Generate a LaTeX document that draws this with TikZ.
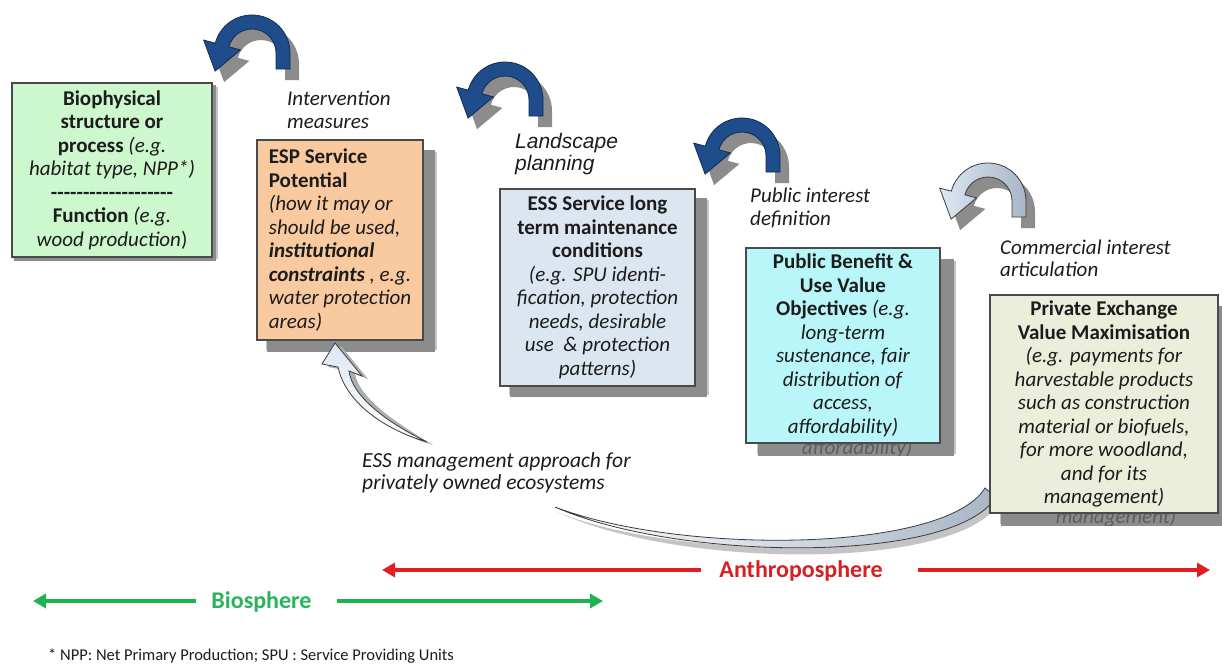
\documentclass[tikz,border=0pt]{standalone}
\usepackage{fontspec}
\setmainfont{Carlito}
\newfontfamily\arialfont{Liberation Sans}
\usetikzlibrary{arrows.meta}
\pgfdeclarelayer{paperlayer}
\pgfdeclarelayer{shadowlayer}
\pgfdeclarelayer{ghostlayer}
\pgfsetlayers{paperlayer,shadowlayer,ghostlayer,main}

\definecolor{textdark}{HTML}{1C1C1C}
\definecolor{boxborder}{HTML}{4A4A4A}
\definecolor{greenfill}{HTML}{CDF7CD}
\definecolor{orangefill}{HTML}{F9C9A0}
\definecolor{bluefill}{HTML}{DCE6F1}
\definecolor{cyanfill}{HTML}{B8F6FA}
\definecolor{beigefill}{HTML}{ECEEDC}
\definecolor{shadowgray}{HTML}{8C8C8C}
\definecolor{shadowsoft}{HTML}{C4C4C4}
\definecolor{ghostgray}{HTML}{5E5E5E}
\definecolor{ublue}{HTML}{1F4D8C}
\definecolor{ubluedark}{HTML}{112C52}
\definecolor{ulightA}{HTML}{DCE7F3}
\definecolor{ulightB}{HTML}{A9B6C7}
\definecolor{uoutline}{HTML}{3C3C3C}
\definecolor{redline}{HTML}{E01E24}
\definecolor{redtext}{HTML}{D82024}
\definecolor{greenline}{HTML}{1FB350}
\definecolor{greentext}{HTML}{2AB45A}

\tikzset{
  uturn/.pic={
    \begin{scope}[shift={(9,-11)}]
      \fill[shadowgray] (38,-16) -- (38,0) arc[start angle=0,end angle=165,radius=38]
        -- (-48.3,12.9) -- (-36.9,-18.1) -- (-11.6,3.1) -- (-23.18,6.21)
        arc[start angle=165,end angle=0,radius=24] -- (24,-16) -- cycle;
    \end{scope}
    \path[pic actions] (38,-16) -- (38,0) arc[start angle=0,end angle=165,radius=38]
        -- (-48.3,12.9) -- (-36.9,-18.1) -- (-11.6,3.1) -- (-23.18,6.21)
        arc[start angle=165,end angle=0,radius=24] -- (24,-16) -- cycle;
  },
  boxnode/.style={font=\fontsize{21}{23.5}\selectfont, text=textdark, inner sep=0pt,
    draw=boxborder, line width=1.1pt},
  label/.style={font=\fontsize{21}{22.5}\selectfont\itshape, text=textdark, inner sep=0pt,
    align=left, anchor=west},
  ghosttext/.style={font=\fontsize{21}{23.5}\selectfont\itshape, text=ghostgray, inner sep=0pt},
  sphereline/.style={line width=4.5pt, -{Triangle[length=13pt,width=14pt]}},
  hollowarrow/.style={draw=uoutline, line width=0.8pt},
}

\newcommand\boxshadow[3]{%
  \begin{pgfonlayer}{shadowlayer}
    \fill[shadowsoft] ([shift={(#2-1.5,#3+1.5)}]#1.south west) rectangle ([shift={(#2+2,#3-2)}]#1.north east);
    \fill[shadowgray] ([shift={(#2,#3)}]#1.south west) rectangle ([shift={(#2,#3)}]#1.north east);
  \end{pgfonlayer}}

\begin{document}
\begin{tikzpicture}[x=1pt,y=1pt]
\useasboundingbox (0,0) rectangle (1222,-669);
\begin{pgfonlayer}{paperlayer}
  \fill[white] (0,0) rectangle (1222,-669);
\end{pgfonlayer}

% turning arrows between the stages
\pic[fill=ublue, draw=ubluedark, line width=0.8pt] (turnA) at (252,-53) {uturn};
\pic[fill=ublue, draw=ubluedark, line width=0.8pt] (turnB) at (505,-100) {uturn};
\pic[fill=ublue, draw=ubluedark, line width=0.8pt] (turnC) at (742,-156) {uturn};
\pic[left color=ulightA, right color=ulightB, draw=uoutline, line width=0.8pt] (turnD) at (988,-201) {uturn};

% stage boxes
\node[boxnode, fill=greenfill, align=center, minimum width=200pt, minimum height=174pt, line width=1.5pt]
  (bio) at (112,-170)
  {\textbf{Biophysical}\\ \textbf{structure or}\\ \textbf{process} \textit{(e.g.}\\
   \textit{habitat type, NPP*)}\\
   \textbf{-{}-{}-{}-{}-{}-{}-{}-{}-{}-{}-{}-{}-{}-{}-{}-{}-{}-{}-}\\
   \textbf{Function} \textit{(e.g.}\\ \textit{wood production})};
\boxshadow{bio}{3}{-3}

\node[boxnode, fill=orangefill, align=left, minimum width=166pt, minimum height=200pt]
  (esp) at (340,-240)
  {\textbf{ESP Service}\\ \textbf{Potential}\\ \textit{(how it may or}\\ \textit{should be used,}\\
   \textbf{\textit{institutional}}\\ \textbf{\textit{constraints}} \textit{, e.g.}\\
   \textit{water protection}\\ \textit{areas)}};
\boxshadow{esp}{11}{-11}

\node[boxnode, fill=bluefill, align=center, minimum width=195pt, minimum height=197pt]
  (ess) at (597.5,-287.5)
  {\textbf{ESS Service long}\\ \textbf{term maintenance}\\ \textbf{conditions}\\
   \textit{(e.g. SPU identi-}\\ \textit{fication, protection}\\ \textit{needs, desirable}\\
   \textit{use \ \& protection}\\ \textit{patterns)}};
\boxshadow{ess}{11}{-10}

\node[boxnode, fill=cyanfill, align=center, minimum width=194pt, minimum height=195pt]
  (pub) at (843,-345.5)
  {\textbf{Public Benefit \&}\\ \textbf{Use Value}\\ \textbf{Objectives} \textit{(e.g.}\\
   \textit{long-term}\\ \textit{sustenance, fair}\\ \textit{distribution of}\\
   \textit{access,}\\ \textit{affordability)}};
\boxshadow{pub}{13}{-12}
\begin{pgfonlayer}{ghostlayer}
  \begin{scope}
    \clip ([shift={(13,-12)}]pub.south west) rectangle ([shift={(13,-12)}]pub.north east);
    \node[ghosttext] (pubghost) at (857,-449) {affordability)};
  \end{scope}
\end{pgfonlayer}

% long hollow arrow: lower sweep from the private box
\fill[shadowsoft] (557,-512) .. controls (680,-562) and (948,-560) .. (988,-494) -- (999,-503)
  .. controls (958,-571) and (680,-569) .. (557,-512) -- cycle;
\path[hollowarrow, left color=white, right color=ulightB]
  (555,-507) .. controls (680,-555) and (945,-553) .. (985,-488) -- (996,-497)
  .. controls (955,-564) and (680,-562) .. (555,-507) -- cycle;

\node[boxnode, fill=beigefill, align=center, minimum width=228pt, minimum height=218pt]
  (priv) at (1104,-404)
  {\textbf{Private Exchange}\\ \textbf{Value Maximisation}\\ \textit{(e.g. payments for}\\
   \textit{harvestable products}\\ \textit{such as construction}\\ \textit{material or biofuels,}\\
   \textit{for more woodland,}\\ \textit{and for its}\\ \textit{management)}};
\boxshadow{priv}{12}{-12}
\begin{pgfonlayer}{ghostlayer}
  \begin{scope}
    \clip ([shift={(12,-12)}]priv.south west) rectangle ([shift={(12,-12)}]priv.north east);
    \node[ghosttext] (privghost) at (1116,-518) {management)};
  \end{scope}
\end{pgfonlayer}

% long hollow arrow: rising head towards the potential box
\fill[shadowgray!70] (433,-445) .. controls (400,-425) and (360,-400) .. (355,-374) -- (368,-379)
  -- (341,-346) -- (328,-367) -- (344,-370) .. controls (351,-403) and (386,-431) .. (433,-445) -- cycle;
\path[hollowarrow, top color=ulightA, bottom color=white]
  (427,-442) .. controls (386,-422) and (352,-396) .. (349,-371) -- (362,-376)
  -- (335,-343) -- (322,-364) -- (338,-367) .. controls (345,-400) and (380,-428) .. (427,-442) -- cycle;

% process labels
\node[label] (lintervention) at (287,-110) {Intervention\\ measures};
\node[label, font=\fontsize{21}{22.5}\selectfont\arialfont\itshape] (llandscape) at (515,-154) {Landscape\\ planning};
\node[label] (lpublic) at (750,-208) {Public interest\\ definition};
\node[label] (lcommercial) at (1000,-258.5) {Commercial interest\\ articulation};
\node[label, font=\fontsize{21.5}{22.5}\selectfont\itshape] (lmanagement) at (362,-473)
  {ESS management approach for\\ privately owned ecosystems};

% sphere ranges
\node[font=\fontsize{24}{26}\selectfont\bfseries, text=redtext, inner sep=0pt] (anthro) at (801,-571) {Anthroposphere};
\coordinate (redL) at (382,-570);
\coordinate (redR) at (1210,-570);
\draw[sphereline, draw=redline, fill=redline] ([xshift=-18pt]anthro.west |- redL) -- (redL);
\draw[sphereline, draw=redline, fill=redline] ([xshift=35pt]anthro.east |- redR) -- (redR);

\node[font=\fontsize{24}{26}\selectfont\bfseries, text=greentext, inner sep=0pt] (biosph) at (261.5,-602) {Biosphere};
\coordinate (greenL) at (33,-601);
\coordinate (greenR) at (603,-601);
\draw[sphereline, line width=4pt, draw=greenline, fill=greenline] ([xshift=-15pt]biosph.west |- greenL) -- (greenL);
\draw[sphereline, line width=4pt, draw=greenline, fill=greenline] ([xshift=25pt]biosph.east |- greenR) -- (greenR);

% footnote
\node[font=\fontsize{16.5}{18}\selectfont, text=textdark, anchor=west, inner sep=0pt] (foot) at (48,-656)
  {* NPP: Net Primary Production; SPU : Service Providing Units};
\end{tikzpicture}
\end{document}
